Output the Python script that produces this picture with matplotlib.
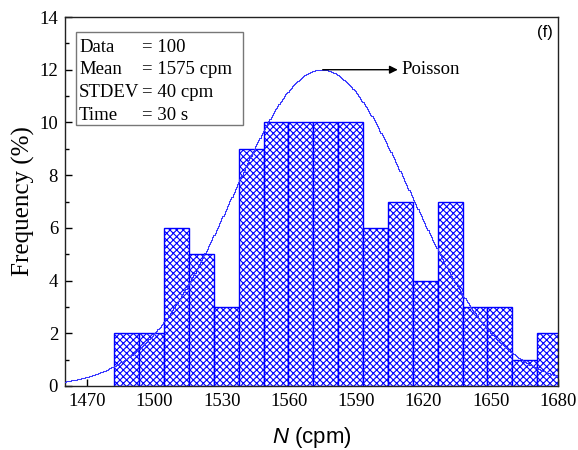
import math
import numpy as np
import matplotlib
matplotlib.use("Agg")
import matplotlib.pyplot as plt
from matplotlib.ticker import MultipleLocator
from matplotlib.patches import Rectangle

# ---- data ----
counts = [2, 2, 6, 5, 3, 9, 10, 10, 10, 10, 6, 7, 4, 7, 3, 3, 1, 2]   # frequency (%)
bin_start = 1482.0
bin_width = 11.1
poisson_mean = 1575.0
poisson_peak = 12.0
x_ticks = [1470, 1500, 1530, 1560, 1590, 1620, 1650, 1680]
y_ticks = [0, 2, 4, 6, 8, 10, 12, 14]
info_labels = ["Data", "Mean", "STDEV", "Time"]
info_values = ["= 100", "= 1575 cpm", "= 40 cpm", "= 30 s"]

plt.rcParams['mathtext.fontset'] = 'custom'
plt.rcParams['mathtext.it'] = 'Liberation Sans:italic'
plt.rcParams['mathtext.rm'] = 'Liberation Sans'
plt.rcParams['hatch.linewidth'] = 0.8

SERIF = 'Liberation Serif'
SANS = 'Liberation Sans'
BLUE = '#0000ff'

fig = plt.figure(figsize=(5.78, 4.5), dpi=100)
ax = fig.add_axes([65/578, 1-386/450, 493/578, 369/450])

edges = bin_start + bin_width * np.arange(len(counts) + 1)
ax.bar(edges[:-1], counts, width=bin_width, align='edge', facecolor='white',
       edgecolor=BLUE, hatch='xxxxx', linewidth=1.0, zorder=2)

# Poisson curve (evaluated on a half-unit grid, drawn as small steps)
k = np.arange(1455, 1686, 0.5)
logp = np.array([kk * math.log(poisson_mean) - poisson_mean - math.lgamma(kk + 1) for kk in k])
pmf = np.exp(logp - logp.max())
curve = pmf * poisson_peak
ax.plot(k, curve, drawstyle='steps-mid', color='#3535ff', lw=0.75, zorder=3)

ax.annotate('', xy=(1608.5, 12.0), xytext=(1575, 12.0),
            arrowprops=dict(arrowstyle='-|>', color='black', lw=1.0,
                            mutation_scale=12, shrinkA=0, shrinkB=0), zorder=4)
ax.text(1610, 12.0, 'Poisson', family=SERIF, fontsize=13.5, va='center', ha='left')

ax.set_xlim(1460, 1680)
ax.set_ylim(0, 14)
ax.set_xticks(x_ticks)
ax.set_yticks(y_ticks)
ax.xaxis.set_minor_locator(MultipleLocator(15))
ax.yaxis.set_minor_locator(MultipleLocator(1))
ax.tick_params(which='major', direction='in', length=5, width=1, labelsize=13.5, pad=5)
ax.tick_params(which='minor', direction='in', length=3, width=1)
for lab in ax.get_xticklabels() + ax.get_yticklabels():
    lab.set_family(SERIF)
for s in ax.spines.values():
    s.set_linewidth(1.0)
    s.set_color('#222222')

ax.set_xlabel(r'$\mathit{N}$ (cpm)', family=SANS, fontsize=16, labelpad=11)
ax.set_ylabel('Frequency (%)', family=SERIF, fontsize=18, labelpad=3)

# info box
def px2ax(px, py):
    return (px - 65) / 493, 1 - (py - 17) / 369

bx0, by1 = px2ax(76, 32)
bx1, by0 = px2ax(243, 125)
ax.add_patch(Rectangle((bx0, by0), bx1 - bx0, by1 - by0, transform=ax.transAxes,
                       facecolor='white', edgecolor='#777777', lw=1.0, zorder=5))
line_y = [48, 70, 92.5, 115]
for lab, val, py in zip(info_labels, info_values, line_y):
    xa, ya = px2ax(79, py)
    ax.text(xa, ya, lab, transform=ax.transAxes, family=SERIF, fontsize=13.5,
            va='center', ha='left', zorder=6)
    xb, _ = px2ax(142, py)
    ax.text(xb, ya, val, transform=ax.transAxes, family=SERIF, fontsize=13.5,
            va='center', ha='left', zorder=6)

fx, fy = px2ax(553, 33)
ax.text(fx, fy, '(f)', transform=ax.transAxes, family=SANS, fontsize=12,
        va='center', ha='right')

fig.savefig('out.png', dpi=100)
